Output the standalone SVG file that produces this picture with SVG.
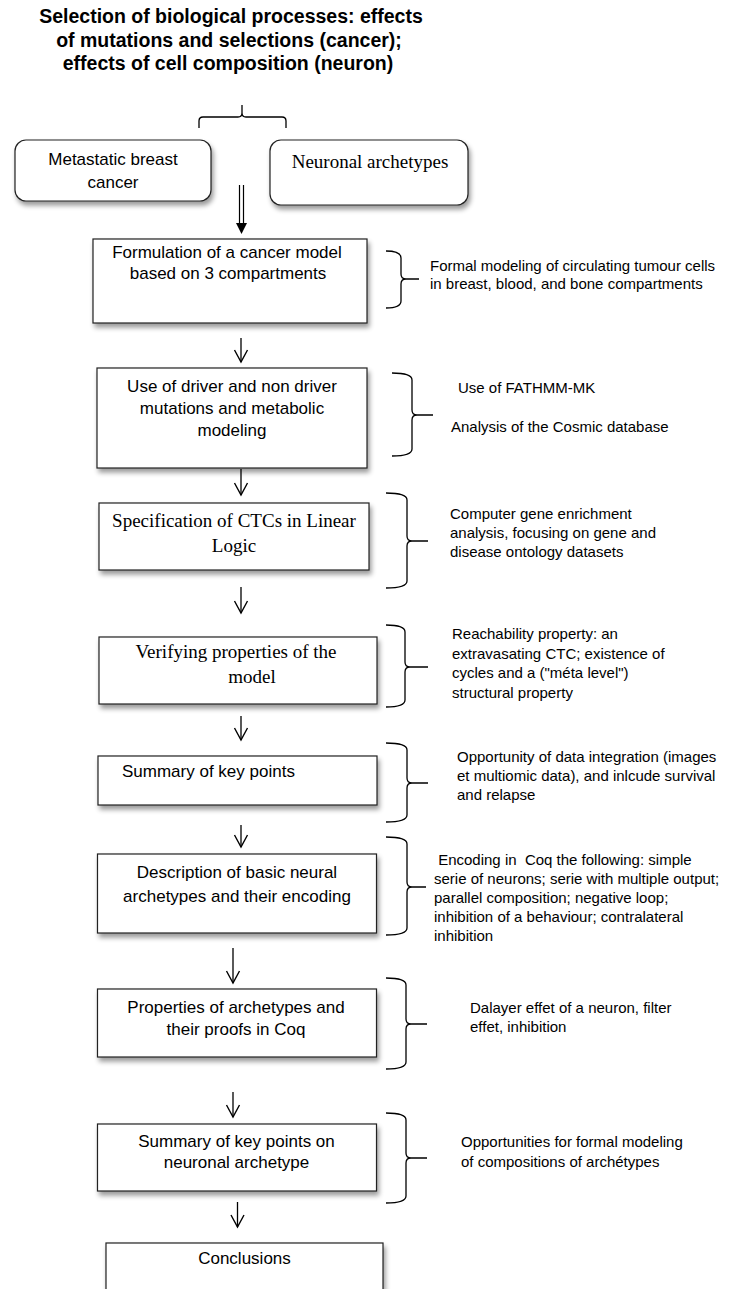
<svg xmlns="http://www.w3.org/2000/svg" width="730" height="1289" viewBox="0 0 730 1289">
<style>
.box{fill:#fff;stroke:#222;stroke-width:1.2;filter:url(#sh)}
.t{font-family:"Liberation Sans",Arial,sans-serif;font-size:17px;fill:#000;text-anchor:middle}
.tl{font-family:"Liberation Sans",Arial,sans-serif;font-size:17px;fill:#000}
.s{font-family:"Liberation Sans",Arial,sans-serif;font-size:15px;fill:#000;white-space:pre}
.sr{font-family:"Liberation Serif","Times New Roman",serif;font-size:19px;fill:#000;text-anchor:middle}
.ti{font-family:"Liberation Sans",Arial,sans-serif;font-size:19.5px;font-weight:bold;fill:#000;text-anchor:middle}
.br{fill:none;stroke:#000;stroke-width:1.3}
.ar{fill:none;stroke:#000;stroke-width:1.3;marker-end:url(#open)}
</style>
<defs>
<filter id="sh" x="-10%" y="-10%" width="130%" height="150%">
<feGaussianBlur in="SourceAlpha" stdDeviation="2.5"/>
<feOffset dx="2" dy="4"/>
<feComponentTransfer><feFuncA type="linear" slope="0.4"/></feComponentTransfer>
<feMerge><feMergeNode/><feMergeNode in="SourceGraphic"/></feMerge>
</filter>
<marker id="open" viewBox="-1 -8 15 16" refX="12" refY="0" markerWidth="15" markerHeight="16" markerUnits="userSpaceOnUse" orient="auto">
<path d="M0,-6.5 L12,0 L0,6.5" fill="none" stroke="#000" stroke-width="1.4"/>
</marker>
</defs>

<g id="title">
<text class="ti" x="231" y="23">Selection of biological processes: effects</text>
<text class="ti" x="229" y="47">of mutations and selections (cancer);</text>
<text class="ti" x="228" y="70">effects of cell composition (neuron)</text>
</g>

<g id="top-brace">
<path class="br" d="M199,128 L199,121 Q199,117 203,117 L238,117 Q242,117 242,113 L242,105 M242,113 Q242,117 246,117 L282,117 Q286,117 286,121 L286,128"/>
</g>

<g id="node-metastatic">
<rect class="box" x="15" y="140" width="196" height="61" rx="11"/>
<text class="t" x="113" y="165">Metastatic breast</text>
<text class="t" x="113" y="188">cancer</text>
</g>

<g id="node-neuronal">
<rect class="box" x="270" y="140" width="198" height="65" rx="11"/>
<text class="sr" x="370" y="168">Neuronal archetypes</text>
</g>

<g id="connectors">
<line x1="239.5" y1="185" x2="239.5" y2="224" stroke="#000" stroke-width="1.2"/>
<line x1="243.5" y1="185" x2="243.5" y2="224" stroke="#000" stroke-width="1.2"/>
<path d="M236,223 L247,223 L241.5,234 Z" fill="#000"/>
<line class="ar" x1="241" y1="338" x2="241" y2="362"/>
<line class="ar" x1="241" y1="469" x2="241" y2="495"/>
<line class="ar" x1="241" y1="587" x2="241" y2="613"/>
<line class="ar" x1="241" y1="716" x2="241" y2="740"/>
<line class="ar" x1="241" y1="825" x2="241" y2="847"/>
<line class="ar" x1="233" y1="948" x2="233" y2="983"/>
<line class="ar" x1="233" y1="1092" x2="233" y2="1117"/>
<line class="ar" x1="237.5" y1="1202" x2="237.5" y2="1227"/>
</g>

<g id="node-formulation">
<rect class="box" x="93" y="239" width="274" height="84"/>
<text class="t" x="227" y="258">Formulation of a cancer model</text>
<text class="t" x="228" y="279">based on 3 compartments</text>
</g>
<g id="note-formulation">
<path class="br" d="M386,251 Q401,251 401,258 L401,274 Q401,279 406,279 L419,279 M406,279 Q401,279 401,284 L401,301 Q401,308 386,308"/>
<text class="s" x="430" y="271">Formal modeling of circulating tumour cells</text>
<text class="s" x="430" y="289">in breast, blood, and bone compartments</text>
</g>

<g id="node-driver">
<rect class="box" x="97" y="368" width="270" height="100"/>
<text class="t" x="232" y="392">Use of driver and non driver</text>
<text class="t" x="232" y="414">mutations and metabolic</text>
<text class="t" x="232" y="436">modeling</text>
</g>
<g id="note-driver">
<path class="br" d="M392,373 Q412,373 412,380 L412,410 Q412,415 417,415 L433,415 M417,415 Q412,415 412,420 L412,449 Q412,456 392,456"/>
<text class="s" x="458" y="393">Use of FATHMM-MK</text>
<text class="s" x="451" y="432">Analysis of the Cosmic database</text>
</g>

<g id="node-ctc">
<rect class="box" x="99" y="503" width="270" height="67"/>
<text class="sr" x="234" y="527">Specification of CTCs in Linear</text>
<text class="sr" x="234" y="552">Logic</text>
</g>
<g id="note-ctc">
<path class="br" d="M386,493 Q407,493 407,500 L407,536 Q407,541 412,541 L428,541 M412,541 Q407,541 407,546 L407,581 Q407,588 386,588"/>
<text class="s" x="450" y="519">Computer gene enrichment</text>
<text class="s" x="450" y="538">analysis, focusing on gene and</text>
<text class="s" x="450" y="557">disease ontology datasets</text>
</g>

<g id="node-verify">
<rect class="box" x="99" y="637" width="278" height="67"/>
<text class="sr" x="236" y="658">Verifying properties of the</text>
<text class="sr" x="252" y="683">model</text>
</g>
<g id="note-verify">
<path class="br" d="M386,625 Q405,625 405,632 L405,662 Q405,667 410,667 L428,667 M410,667 Q405,667 405,672 L405,700 Q405,707 386,707"/>
<text class="s" x="452" y="639">Reachability property: an</text>
<text class="s" x="452" y="658.5">extravasating CTC; existence of</text>
<text class="s" x="452" y="678">cycles and a ("méta level")</text>
<text class="s" x="452" y="697.5">structural property</text>
</g>

<g id="node-summary">
<rect class="box" x="98" y="756" width="279" height="49"/>
<text class="tl" x="122" y="777">Summary of key points</text>
</g>
<g id="note-summary">
<path class="br" d="M386,743 Q407,743 407,750 L407,778 Q407,783 412,783 L428,783 M412,783 Q407,783 407,788 L407,815 Q407,822 386,822"/>
<text class="s" x="457" y="762">Opportunity of data integration (images</text>
<text class="s" x="457" y="781">et multiomic data), and inlcude survival</text>
<text class="s" x="457" y="800">and relapse</text>
</g>

<g id="node-description">
<rect class="box" x="97.5" y="854" width="279" height="79"/>
<text class="t" x="237" y="878">Description of basic neural</text>
<text class="t" x="237" y="902">archetypes and their encoding</text>
</g>
<g id="note-description">
<path class="br" d="M386,837 Q407,837 407,844 L407,882 Q407,887 412,887 L426,887 M412,887 Q407,887 407,892 L407,928 Q407,935 386,935"/>
<text class="s" x="434" y="865"> Encoding in  Coq the following: simple</text>
<text class="s" x="434" y="884">serie of neurons; serie with multiple output;</text>
<text class="s" x="434" y="903">parallel composition; negative loop;</text>
<text class="s" x="434" y="922">inhibition of a behaviour; contralateral</text>
<text class="s" x="434" y="941">inhibition</text>
</g>

<g id="node-properties">
<rect class="box" x="97.5" y="989" width="279" height="68"/>
<text class="t" x="236" y="1013">Properties of archetypes and</text>
<text class="t" x="236" y="1035">their proofs in Coq</text>
</g>
<g id="note-properties">
<path class="br" d="M386,978 Q406,978 406,985 L406,1019 Q406,1024 411,1024 L427,1024 M411,1024 Q406,1024 406,1029 L406,1062 Q406,1069 386,1069"/>
<text class="s" x="470" y="1013">Dalayer effet of a neuron, filter</text>
<text class="s" x="470" y="1032">effet, inhibition</text>
</g>

<g id="node-summary-neuronal">
<rect class="box" x="97.5" y="1124" width="279" height="67"/>
<text class="t" x="236.5" y="1147">Summary of key points on</text>
<text class="t" x="236.5" y="1168">neuronal archetype</text>
</g>
<g id="note-summary-neuronal">
<path class="br" d="M386,1113 Q406,1113 406,1120 L406,1153 Q406,1158 411,1158 L427,1158 M411,1158 Q406,1158 406,1163 L406,1196 Q406,1203 386,1203"/>
<text class="s" x="461" y="1147">Opportunities for formal modeling</text>
<text class="s" x="461" y="1167">of compositions of archétypes</text>
</g>

<g id="node-conclusions">
<rect class="box" x="106" y="1243" width="277" height="70"/>
<text class="t" x="244.5" y="1264">Conclusions</text>
</g>
</svg>
